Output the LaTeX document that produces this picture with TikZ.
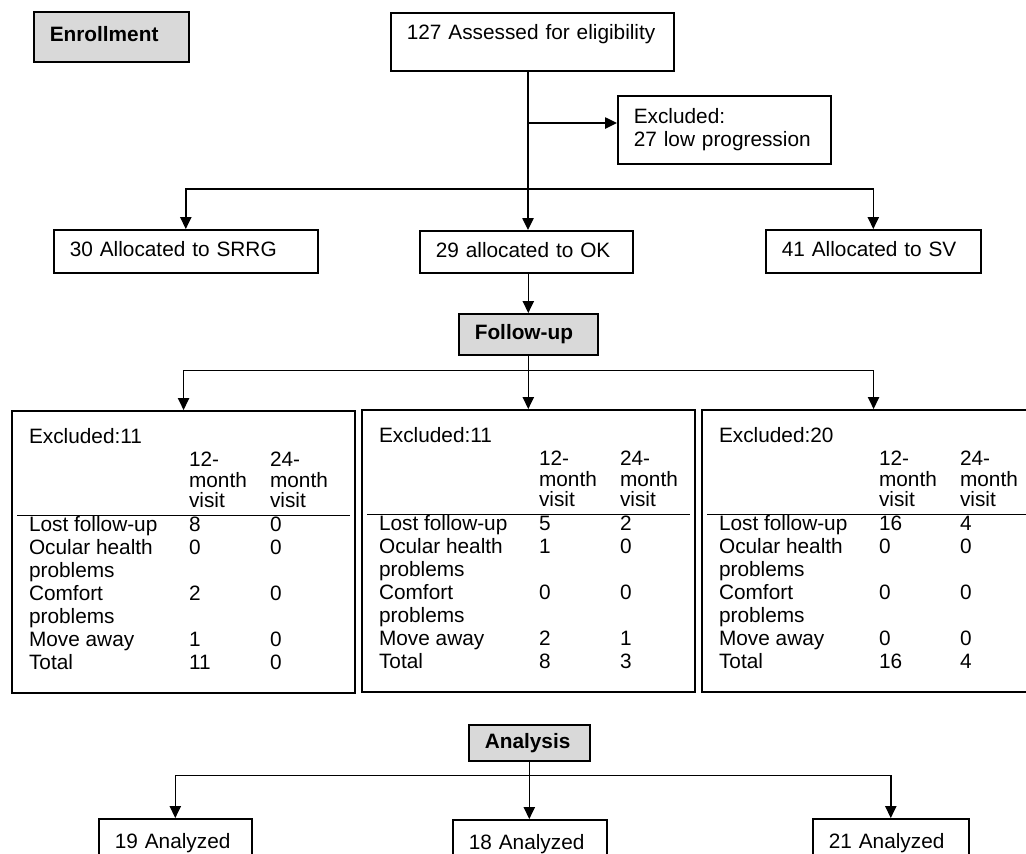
\documentclass[tikz,border=0pt]{standalone}
\usepackage{fontspec}
\setmainfont{Liberation Sans}
\usepackage{array}
\usetikzlibrary{arrows.meta}

\definecolor{boxgrey}{RGB}{217,217,217}
\newcommand{\flowfont}{\fontsize{15.6}{17.25}\selectfont}
\newcolumntype{L}[1]{>{\raggedright\arraybackslash}p{#1}}
% header cell of the visit columns, a little tighter than the rows
\newcommand{\visitcell}[1]{\setlength{\baselineskip}{15.4pt}#1-\newline month\newline visit}
\hyphenpenalty=10000
\exhyphenpenalty=10000

\tikzset{every picture/.style={line width=0.75pt}}
\tikzset{
  box/.style={draw, line width=1.2pt, anchor=north west, inner xsep=12pt, inner ysep=0pt, align=left, font=\flowfont},
  oneline/.style={text height=11.4pt, text depth=3.4pt},
  greybox/.style={box, oneline, fill=boxgrey, font=\flowfont\bfseries},
  tablebox/.style={draw, line width=1.6pt, anchor=north west, inner xsep=3.75pt, inner ysep=0pt, minimum height=211.5pt, font=\flowfont},
  link/.style={line width=1.1pt},
  arr/.style={link, -{Triangle[length=9pt,width=8.5pt]}},
}

\begin{document}
\begin{tikzpicture}[x=0.75pt,y=0.75pt,yscale=-1,xscale=1]
        \useasboundingbox (0,0) rectangle (1026,854);
        \clip (0,0) rectangle (1026,854);

        % enrollment
        \node[greybox, text width=92.25pt, minimum height=37.5pt, text depth=5pt] (enroll) at (33,11) {Enrollment};
        \node[box, oneline, text depth=14.4pt, text width=188.25pt, minimum height=43.5pt] (assess) at (390,12) {127 Assessed for eligibility};
        \node[box, text width=135.75pt, minimum height=51pt] (excl) at (617,95) {Excluded:\\27 low progression};

        % allocation
        \node[box, oneline, text width=174pt, minimum height=32.25pt] (srrg) at (53,229) {30 Allocated to SRRG};
        \node[box, oneline, text width=135.75pt, minimum height=31.5pt] (ok) at (419,230) {29 allocated to OK};
        \node[box, oneline, text width=137.25pt, minimum height=32.25pt] (sv) at (765,229) {41 Allocated to SV};

        % follow-up
        \node[greybox, text width=80.25pt, minimum height=30.75pt] (follow) at (458,313) {Follow-up};

        \node[tablebox] (lossA) at (11,410) {%
          \begin{tabular}{@{\hspace{9pt}}L{120pt}@{}L{60.75pt}@{}L{60pt}@{}}
            \multicolumn{3}{@{\hspace{9pt}}l@{}}{Excluded:11}\\
             & \visitcell{12} & \visitcell{24}\\
            \hline
            Lost follow-up & 8 & 0\\
            Ocular health\newline problems & 0 & 0\\
            Comfort\newline problems & 2 & 0\\
            Move away & 1 & 0\\
            Total & 11 & 0
          \end{tabular}};
        \node[tablebox] (lossB) at (361,409) {%
          \begin{tabular}{@{\hspace{9pt}}L{120pt}@{}L{60.75pt}@{}L{52.5pt}@{}}
            \multicolumn{3}{@{\hspace{9pt}}l@{}}{Excluded:11}\\
             & \visitcell{12} & \visitcell{24}\\
            \hline
            Lost follow-up & 5 & 2\\
            Ocular health\newline problems & 1 & 0\\
            Comfort\newline problems & 0 & 0\\
            Move away & 2 & 1\\
            Total & 8 & 3
          \end{tabular}};
        \node[tablebox] (lossC) at (701,409) {%
          \begin{tabular}{@{\hspace{9pt}}L{120pt}@{}L{60.75pt}@{}L{60pt}@{}}
            \multicolumn{3}{@{\hspace{9pt}}l@{}}{Excluded:20}\\
             & \visitcell{12} & \visitcell{24}\\
            \hline
            Lost follow-up & 16 & 4\\
            Ocular health\newline problems & 0 & 0\\
            Comfort\newline problems & 0 & 0\\
            Move away & 0 & 0\\
            Total & 16 & 4
          \end{tabular}};

        % analysis
        \node[greybox, text width=66.75pt, minimum height=27pt] (analysis) at (468,724) {Analysis};
        \node[box, oneline, text width=90.75pt, minimum height=36pt] (anA) at (98,818) {19 Analyzed};
        \node[box, oneline, text width=91.5pt, minimum height=36pt] (anB) at (452,819) {18 Analyzed};
        \node[box, oneline, text width=93pt, minimum height=36pt] (anC) at (812,818) {21 Analyzed};

        % connectors
        \coordinate (trunk) at (528,189);
        \coordinate (split) at (528,123);
        \draw[link] (assess.south -| trunk) -- (trunk);
        \draw[arr] (split) -- (split -| excl.west);
        \draw[arr] (trunk) -| (srrg.north);
        \draw[arr] (trunk) -| (sv.north);
        \draw[arr] (trunk) -- (trunk |- ok.north);
        \draw[arr] (follow.north |- ok.south) -- (follow.north);

        \path (follow.south) ++(0,15) coordinate (fork);
        \draw[link] (follow.south) -- (fork);
        \draw[arr] (fork) -| (lossA.north);
        \draw[arr] (fork) -- (fork |- lossB.north);
        \draw[arr] (fork) -| (lossC.north);

        \path (analysis.south) ++(0,14) coordinate (split2);
        \draw[link] (analysis.south) -- (split2);
        \draw[arr] (split2) -| (anA.north);
        \draw[arr] (split2) -- (split2 |- anB.north);
        \draw[arr] (split2) -| (anC.north);

\end{tikzpicture}
\end{document}
